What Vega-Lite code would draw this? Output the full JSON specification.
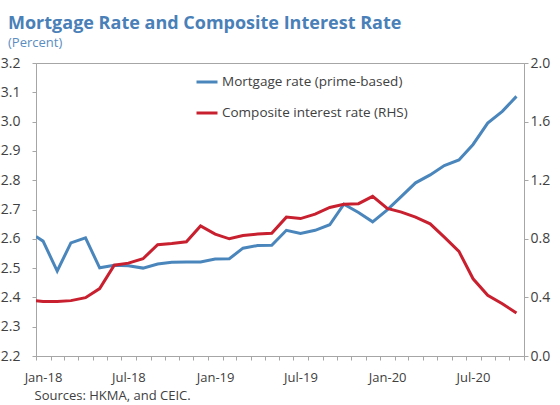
{
  "$schema": "https://vega.github.io/schema/vega-lite/v6.json",
  "width": 488,
  "height": 293,
  "autosize": {"type": "none"},
  "padding": {"left": 36, "top": 63, "right": 36, "bottom": 49},
  "background": "white",
  "config": {
    "font": "Open Sans",
    "view": {"stroke": "#a6a6a6", "strokeWidth": 1}
  },
  "title": {
    "text": "Mortgage Rate and Composite Interest Rate",
    "subtitle": "(Percent)",
    "anchor": "start",
    "frame": "group",
    "fontSize": 18,
    "fontWeight": "bold",
    "color": "#4a80b8",
    "subtitleColor": "#5a8dc2",
    "subtitleFontSize": 13,
    "subtitlePadding": 4,
    "dx": -28,
    "offset": 6
  },
  "data": {
    "values": [
      {"date": "2018-01-01", "mortgage": 2.608, "composite": 0.378},
      {"date": "2018-01-16", "mortgage": 2.592, "composite": 0.372},
      {"date": "2018-02-15", "mortgage": 2.490, "composite": 0.372},
      {"date": "2018-03-16", "mortgage": 2.586, "composite": 0.378},
      {"date": "2018-04-16", "mortgage": 2.603, "composite": 0.398},
      {"date": "2018-05-16", "mortgage": 2.501, "composite": 0.460},
      {"date": "2018-06-16", "mortgage": 2.510, "composite": 0.620},
      {"date": "2018-07-16", "mortgage": 2.508, "composite": 0.634},
      {"date": "2018-08-16", "mortgage": 2.500, "composite": 0.664},
      {"date": "2018-09-16", "mortgage": 2.514, "composite": 0.760},
      {"date": "2018-10-16", "mortgage": 2.520, "composite": 0.768},
      {"date": "2018-11-16", "mortgage": 2.521, "composite": 0.780},
      {"date": "2018-12-16", "mortgage": 2.521, "composite": 0.888},
      {"date": "2019-01-16", "mortgage": 2.531, "composite": 0.832},
      {"date": "2019-02-15", "mortgage": 2.532, "composite": 0.800},
      {"date": "2019-03-16", "mortgage": 2.568, "composite": 0.822},
      {"date": "2019-04-16", "mortgage": 2.577, "composite": 0.832},
      {"date": "2019-05-16", "mortgage": 2.578, "composite": 0.838},
      {"date": "2019-06-16", "mortgage": 2.629, "composite": 0.948},
      {"date": "2019-07-16", "mortgage": 2.618, "composite": 0.938},
      {"date": "2019-08-16", "mortgage": 2.629, "composite": 0.968},
      {"date": "2019-09-16", "mortgage": 2.648, "composite": 1.014},
      {"date": "2019-10-16", "mortgage": 2.718, "composite": 1.036},
      {"date": "2019-11-16", "mortgage": 2.690, "composite": 1.040},
      {"date": "2019-12-16", "mortgage": 2.658, "composite": 1.090},
      {"date": "2020-01-16", "mortgage": 2.699, "composite": 1.008},
      {"date": "2020-02-15", "mortgage": 2.745, "composite": 0.982},
      {"date": "2020-03-16", "mortgage": 2.791, "composite": 0.948},
      {"date": "2020-04-16", "mortgage": 2.818, "composite": 0.902},
      {"date": "2020-05-16", "mortgage": 2.850, "composite": 0.811},
      {"date": "2020-06-16", "mortgage": 2.869, "composite": 0.714},
      {"date": "2020-07-16", "mortgage": 2.922, "composite": 0.527},
      {"date": "2020-08-16", "mortgage": 2.995, "composite": 0.414},
      {"date": "2020-09-16", "mortgage": 3.035, "composite": 0.357},
      {"date": "2020-10-16", "mortgage": 3.086, "composite": 0.293}
    ]
  },
  "encoding": {
    "x": {
      "field": "date",
      "type": "temporal",
      "scale": {
        "type": "utc",
        "domain": [
          {"year": 2018, "month": 1, "date": 1, "utc": true},
          {"year": 2020, "month": 11, "date": 1, "utc": true}
        ]
      },
      "axis": {
        "orient": "bottom",
        "grid": false,
        "tickCount": {"interval": "month", "step": 1},
        "labelExpr": "utcmonth(datum.value) % 6 == 0 ? utcFormat(datum.value, '%b-%y') : ''",
        "labelOffset": 7,
        "labelFontSize": 13,
        "labelColor": "#404040",
        "labelPadding": 11,
        "labelOverlap": false,
        "labelFlush": false,
        "labelBound": false,
        "tickSize": 4,
        "domainColor": "#a6a6a6",
        "tickColor": "#a6a6a6",
        "title": "Sources: HKMA, and CEIC.",
        "titleAnchor": "start",
        "titleAlign": "left",
        "titleX": -2,
        "titleFontSize": 13,
        "titleFontWeight": "normal",
        "titleColor": "#404040",
        "titlePadding": 5
      }
    }
  },
  "layer": [
    {
      "mark": {"type": "line", "strokeWidth": 3, "clip": true},
      "encoding": {
        "y": {
          "field": "mortgage",
          "type": "quantitative",
          "scale": {"domain": [2.2, 3.2], "nice": false, "zero": false},
          "axis": {
            "orient": "left",
            "values": [2.2, 2.3, 2.4, 2.5, 2.6, 2.7, 2.8, 2.9, 3.0, 3.1, 3.2],
            "format": ".1f",
            "grid": false,
            "title": null,
            "labelFontSize": 14,
            "labelColor": "#404040",
            "labelPadding": 12,
            "tickSize": 4,
            "domainColor": "#a6a6a6",
            "tickColor": "#a6a6a6"
          }
        },
        "color": {
          "datum": "Mortgage rate (prime-based)",
          "type": "nominal",
          "scale": {
            "domain": ["Mortgage rate (prime-based)", "Composite interest rate (RHS)"],
            "range": ["#4a86bb", "#c8202f"]
          },
          "legend": {
            "orient": "none",
            "legendX": 159,
            "legendY": 7,
            "title": null,
            "symbolType": "stroke",
            "symbolSize": 441,
            "symbolStrokeWidth": 3,
            "labelFontSize": 13.5,
            "labelColor": "#404040",
            "labelOffset": 3,
            "labelLimit": 0,
            "rowPadding": 12,
            "padding": 0
          }
        }
      }
    },
    {
      "mark": {"type": "line", "strokeWidth": 3, "clip": true},
      "encoding": {
        "y": {
          "field": "composite",
          "type": "quantitative",
          "scale": {"domain": [0, 2], "nice": false},
          "axis": {
            "orient": "right",
            "values": [0, 0.4, 0.8, 1.2, 1.6, 2.0],
            "format": ".1f",
            "grid": false,
            "title": null,
            "labelFontSize": 14,
            "labelColor": "#404040",
            "labelPadding": 2,
            "tickSize": 4,
            "domainColor": "#a6a6a6",
            "tickColor": "#a6a6a6"
          }
        },
        "color": {"datum": "Composite interest rate (RHS)", "type": "nominal"}
      }
    }
  ],
  "resolve": {"scale": {"y": "independent"}}
}
